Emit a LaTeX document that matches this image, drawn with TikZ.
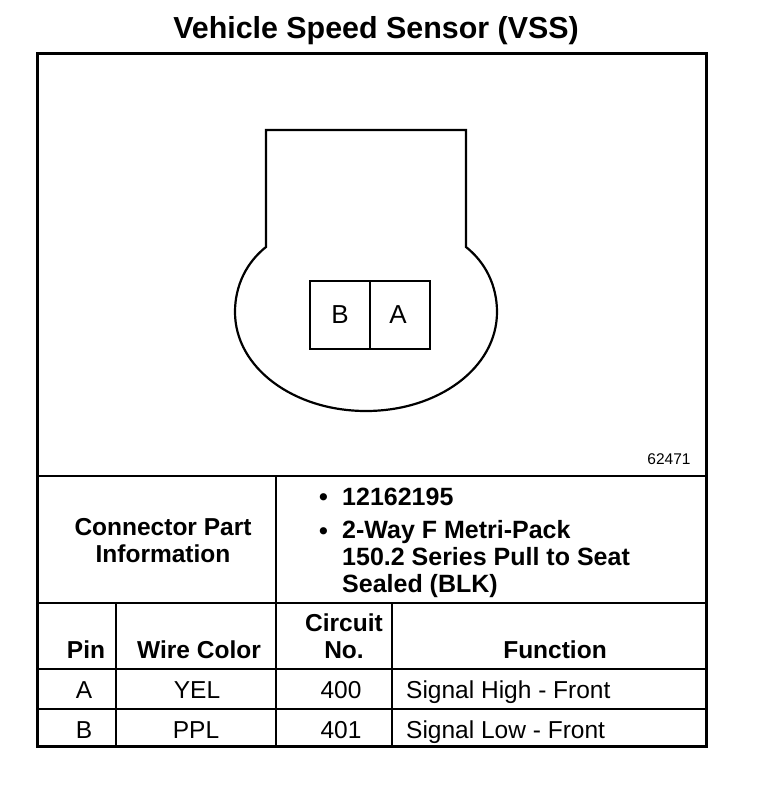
\documentclass[tikz,border=0pt]{standalone}
\usepackage{fontspec}
\setmainfont{Liberation Sans}
\tikzset{
  x=1pt,y=-1pt,
  frame/.style={draw=black,line width=3pt},
  rule/.style={draw=black,line width=2.8pt},
  outline/.style={line width=2.2pt},
  title/.style={font=\fontsize{30.4}{32}\selectfont\bfseries,anchor=center,inner sep=0},
  head/.style={font=\fontsize{24.5}{27}\selectfont\bfseries,anchor=center,inner sep=0},
  bodytext/.style={font=\fontsize{24.5}{27}\selectfont,anchor=center,inner sep=0},
  info/.style={font=\fontsize{25}{27}\selectfont\bfseries,anchor=west,inner sep=0},
  pinbox/.style={draw,line width=2.2pt,minimum width=60pt,minimum height=68pt,inner sep=0,font=\fontsize{26}{28}\selectfont},
}
\begin{document}
\begin{tikzpicture}
\useasboundingbox (0,0) rectangle (768,788);
\fill[white] (0,0) rectangle (768,788);
\node[title] (t) at (376,31) {Vehicle Speed Sensor (VSS)};
\draw[frame] (37.5,53) rectangle (706.5,746.5);
\draw[rule] (38,476) -- (707,476);
\draw[rule] (38,603) -- (707,603);
\draw[rule] (38,669) -- (707,669);
\draw[rule] (38,709) -- (707,709);
\draw[rule] (276,476) -- (276,747);
\draw[rule] (116,603) -- (116,747);
\draw[rule] (392,603) -- (392,747);
% sensor outline
\draw[outline] (266,247) -- (266,130) -- (466,130) -- (466,247)
  .. controls (485,262) and (497,285) .. (497,312)
  .. controls (497,368) and (438,411) .. (366,411)
  .. controls (294,411) and (235,368) .. (235,312)
  .. controls (235,285) and (247,262) .. (266,247) -- cycle;
\node[pinbox] (b) at (340,315) {B};
\node[pinbox] (a) at (400,315) {};
\node[font=\fontsize{26}{28}\selectfont,inner sep=0] (alabel) at (398,315) {A};
\node[font=\fontsize{15.5}{18}\selectfont,inner sep=0] (num) at (669,459) {62471};
\node[head,align=center] (cpi) at (163,541) {Connector Part\\Information};
\node[info] (b1) at (319,500) {•};
\node[info] (i1) at (342,497) {12162195};
\node[info] (b2) at (319,534) {•};
\node[info] (i2) at (342,532) {2-Way F Metri-Pack};
\node[info] (i3) at (342,557) {150.2 Series Pull to Seat};
\node[info] (i4) at (342,586) {Sealed (BLK)};
\node[head] (h1) at (86,650) {Pin};
\node[head] (h2) at (199,650) {Wire Color};
\node[head,align=center] (h3) at (344,636) {Circuit\\No.};
\node[head] (h4) at (555,650) {Function};
\node[bodytext] (c1) at (84,690) {A};
\node[bodytext] (c2) at (197,690) {YEL};
\node[bodytext] (c3) at (341,690) {400};
\node[bodytext,anchor=west] (c4) at (406,692) {Signal High - Front};
\node[bodytext] (d1) at (84,730) {B};
\node[bodytext] (d2) at (196,730) {PPL};
\node[bodytext] (d3) at (341,730) {401};
\node[bodytext,anchor=west] (d4) at (406,732) {Signal Low - Front};
\end{tikzpicture}
\end{document}
